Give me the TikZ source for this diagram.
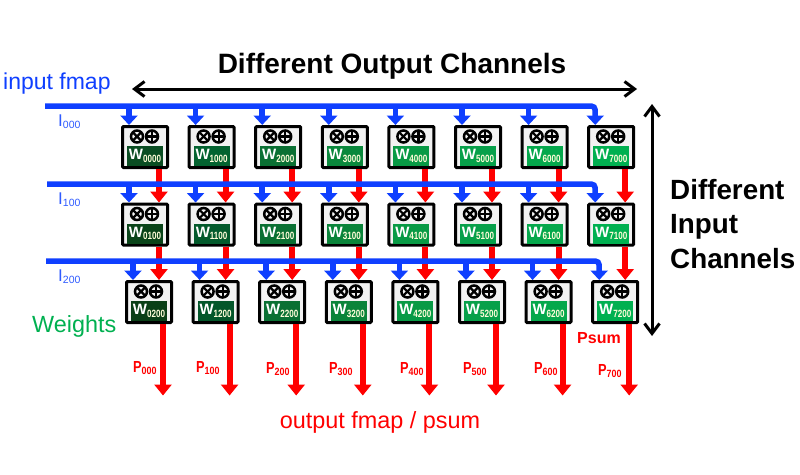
\documentclass[tikz,border=0pt]{standalone}
\usepackage{fontspec}
\usepackage{graphicx}
\setmainfont{Liberation Sans}
\usetikzlibrary{arrows.meta,calc}
\definecolor{inblue}{HTML}{0F3FFF}
\definecolor{ilabel}{HTML}{2F5BFF}
\definecolor{pred}{HTML}{FF0000}
\definecolor{wgreen}{HTML}{00B050}
\definecolor{g00}{HTML}{0A4D22}\definecolor{g01}{HTML}{0A4419}\definecolor{g02}{HTML}{0A3F17}
\definecolor{g10}{HTML}{036330}\definecolor{g11}{HTML}{035A2C}\definecolor{g12}{HTML}{03562A}
\definecolor{g20}{HTML}{0A7033}\definecolor{g21}{HTML}{0A7033}\definecolor{g22}{HTML}{0A7033}
\definecolor{g30}{HTML}{0A883C}\definecolor{g31}{HTML}{0A843A}\definecolor{g32}{HTML}{0A843A}
\definecolor{g40}{HTML}{089A45}\definecolor{g41}{HTML}{089A45}\definecolor{g42}{HTML}{089A45}
\definecolor{g50}{HTML}{07A04A}\definecolor{g51}{HTML}{07A04A}\definecolor{g52}{HTML}{07A04A}
\definecolor{g60}{HTML}{05A84C}\definecolor{g61}{HTML}{05A84C}\definecolor{g62}{HTML}{05A84C}
\definecolor{g70}{HTML}{00B050}\definecolor{g71}{HTML}{00B050}\definecolor{g72}{HTML}{00B050}
\tikzset{x=1pt,y=-1pt,
  pe/.style={draw=black,line width=3pt,fill=black!5,rounded corners=1pt,minimum width=45pt,minimum height=41pt,inner sep=0,outer sep=1.5pt,anchor=north west},
  wbox/.style={fill=#1,minimum width=36pt,minimum height=20pt,inner sep=0,anchor=center,text=white,font=\bfseries\fontsize{15}{15}\selectfont},
  oper/.style={draw=black,line width=2.5pt,circle,minimum size=12pt,inner sep=0,outer sep=0},
  bluetip/.style={-{Triangle[width=17pt,length=9.5pt]},color=inblue,line width=5.5pt},
  redtip/.style={-{Triangle[width=17pt,length=11pt]},color=pred,line width=6pt},
  dim/.style={{Straight Barb[length=10pt,width=15pt,line width=3pt]}-{Straight Barb[length=10pt,width=15pt,line width=3pt]},line width=3pt,color=black},
  ilab/.style={text=ilabel,font=\fontsize{17}{17}\selectfont,inner sep=0,anchor=base west},
  plab/.style={text=pred,font=\bfseries\fontsize{16}{16}\selectfont,inner sep=0,anchor=base west},
}
\newcommand{\isub}[1]{\raisebox{-2pt}{\fontsize{10.5}{10}\selectfont #1}}
\newcommand{\psub}[1]{\raisebox{-2pt}{\scalebox{0.85}[1]{\fontsize{10.5}{10}\selectfont #1}}}
\newcommand{\wsub}[1]{\raisebox{-2.5pt}{\textcolor{yellow!15}{\scalebox{0.77}[1]{\fontsize{10.5}{10}\selectfont #1}}}}
\newcommand{\pchar}{\scalebox{0.8}[1]{P}}
\begin{document}
\begin{tikzpicture}
\useasboundingbox (0,0) rectangle (800,474);
% boxes
\foreach \r/\yy/\dx in {0/125/0,1/202.5/0,2/280/4}{
 \foreach \c in {0,...,7}{
  \pgfmathsetmacro{\xx}{121+\dx+66.6*\c}
  \node[pe] (b\c\r) at (\xx,\yy) {};
  \node[oper] (m\c\r) at ($(b\c\r.north west)+(16,11.5)$) {};
  \draw[line width=2.2pt] (m\c\r.north west) -- (m\c\r.south east) (m\c\r.north east) -- (m\c\r.south west);
  \node[oper] (a\c\r) at ($(b\c\r.north west)+(31,11.5)$) {};
  \draw[line width=2.2pt] (a\c\r.north) -- (a\c\r.south) (a\c\r.east) -- (a\c\r.west);
  \node[wbox=g\c\r] (w\c\r) at ($(b\c\r.north west)+(24,31)$) {W\wsub{\c\r00}};
  \coordinate (t\c\r) at ($(b\c\r.north west)+(8,0)$);
 }
}
% red connectors between rows
\foreach \c in {0,...,7}{
 \draw[redtip] ($(b\c0.south west)+(38,0)$) -- ($(b\c1.north west)+(38,0)$);
 \draw[redtip] ($(b\c1.south west)+(38,0)$) -- ($(b\c2.north west)+(34,0)$);
 \coordinate (out\c) at ($(b\c2.south west)+(38,71.5)$);
 \draw[redtip] ($(b\c2.south west)+(38,0)$) -- (out\c);
}
% blue input buses
\coordinate (in0) at (45,106);
\coordinate (in1) at (47,184);
\coordinate (in2) at (46,261);
\foreach \r in {0,1,2}{
 \foreach \c in {0,...,6}{
  \draw[bluetip] (in\r -| t\c\r) -- (t\c\r);
 }
 \draw[bluetip,rounded corners=4pt] (in\r) -- (in\r -| t7\r) -- (t7\r);
}
% dimension arrows
\coordinate (ha) at (132,89); \coordinate (hb) at (637,89);
\coordinate (va) at (652,104); \coordinate (vb) at (652,336);
\draw[dim] (ha) -- (hb);
\draw[dim] (va) -- (vb);
% titles
\node[font=\bfseries\fontsize{28}{28}\selectfont,inner sep=0,anchor=base] (t1) at (392,73) {Different Output Channels};
\node[font=\bfseries\fontsize{27.8}{34.5}\selectfont,align=left,inner sep=0,anchor=north west] (t2) at (670,179) {Different\\Input\\Channels};
\node[text=inblue,font=\fontsize{23}{23}\selectfont,inner sep=0,anchor=base west] (t3) at (3,89) {input fmap};
\node[text=wgreen,font=\fontsize{23.4}{23.4}\selectfont,inner sep=0,anchor=base west] (t4) at (32,332) {Weights};
\node[text=pred,font=\fontsize{23.4}{23.4}\selectfont,inner sep=0,anchor=base] (t5) at (380,428) {output fmap / psum};
\node[text=pred,font=\bfseries\fontsize{16}{16}\selectfont,inner sep=0,anchor=base west] (ps) at (577,343) {Psum};
% I labels
\node[ilab] (i0) at (58,126.5) {I\isub{000}};
\node[ilab] (i1) at (58,204.5) {I\isub{100}};
\node[ilab] (i2) at (58,281.5) {I\isub{200}};
% P labels
\foreach \n/\x/\y in {0/133/372,1/196/372,2/266/373,3/329/373,4/400/373,5/463/373,6/534/373,7/598/375}{
 \node[plab] (p\n) at (\x,\y) {\pchar\psub{\n00}};
}
\end{tikzpicture}
\end{document}
